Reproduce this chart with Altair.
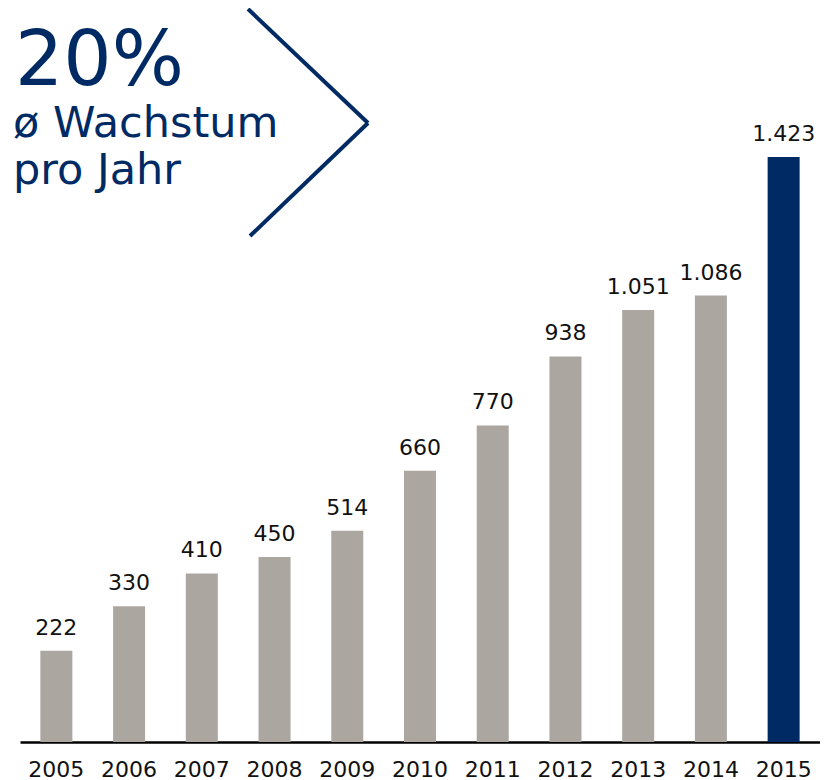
import altair as alt
import pandas as pd

years = ["2005", "2006", "2007", "2008", "2009", "2010", "2011", "2012", "2013", "2014", "2015"]
values = [222, 330, 410, 450, 514, 660, 770, 938, 1051, 1086, 1423]
labels = ["222", "330", "410", "450", "514", "660", "770", "938", "1.051", "1.086", "1.423"]
highlight = [False] * 10 + [True]

title_lines = ["20%", "ø Wachstum", "pro Jahr"]

df = pd.DataFrame({"year": years, "value": values, "label": labels, "hl": highlight})

GRAY = "#aba6a0"
NAVY = "#002a64"
FONT = "DejaVu Sans"

x = alt.X("year:N", sort=years, title=None,
          scale=alt.Scale(paddingInner=0, paddingOuter=0),
          axis=alt.Axis(labelAngle=0, ticks=False, tickSize=0, labelPadding=34,
                        labelBaseline="alphabetic", labelFontSize=22, labelFont=FONT,
                        labelColor="#111111", domainColor="#000000", domainWidth=2.5,
                        grid=False))
y = alt.Y("value:Q", title=None, scale=alt.Scale(domain=[0, 1785.5], nice=False),
          axis=None)

bars = alt.Chart(df).mark_bar(size=32).encode(
    x=x, y=y,
    color=alt.Color("hl:N", scale=alt.Scale(domain=[False, True], range=[GRAY, NAVY]), legend=None),
)

texts = alt.Chart(df).mark_text(baseline="alphabetic", dy=-16, fontSize=22, font=FONT,
                                color="#111111").encode(
    x=x, y=y, text="label:N")

t1 = alt.Chart(pd.DataFrame({"t": [title_lines[0]]})).mark_text(
    align="left", baseline="alphabetic", fontSize=76, font=FONT, color=NAVY
).encode(x=alt.value(-5), y=alt.value(77), text="t:N")
t2 = alt.Chart(pd.DataFrame({"t": [title_lines[1]]})).mark_text(
    align="left", baseline="alphabetic", fontSize=43, font=FONT, color=NAVY
).encode(x=alt.value(-7), y=alt.value(129), text="t:N")
t3 = alt.Chart(pd.DataFrame({"t": [title_lines[2]]})).mark_text(
    align="left", baseline="alphabetic", fontSize=43, font=FONT, color=NAVY
).encode(x=alt.value(-7), y=alt.value(176), text="t:N")

chev1 = alt.Chart(pd.DataFrame({"a": [0]})).mark_rule(color=NAVY, strokeWidth=4).encode(
    x=alt.value(228), y=alt.value(1), x2=alt.value(348), y2=alt.value(115))
chev2 = alt.Chart(pd.DataFrame({"a": [0]})).mark_rule(color=NAVY, strokeWidth=4).encode(
    x=alt.value(348), y=alt.value(115), x2=alt.value(230), y2=alt.value(228))

chart = alt.layer(bars, texts, t1, t2, t3, chev1, chev2).properties(
    width=800, height=734,
    background="white",
    autosize=alt.AutoSizeParams(type="none"),
    padding={"left": 12, "top": 0, "right": 0, "bottom": 36},
).configure_view(strokeWidth=0, stroke="transparent")

chart.save("out.html", embed_options={"renderer": "svg", "actions": False})
